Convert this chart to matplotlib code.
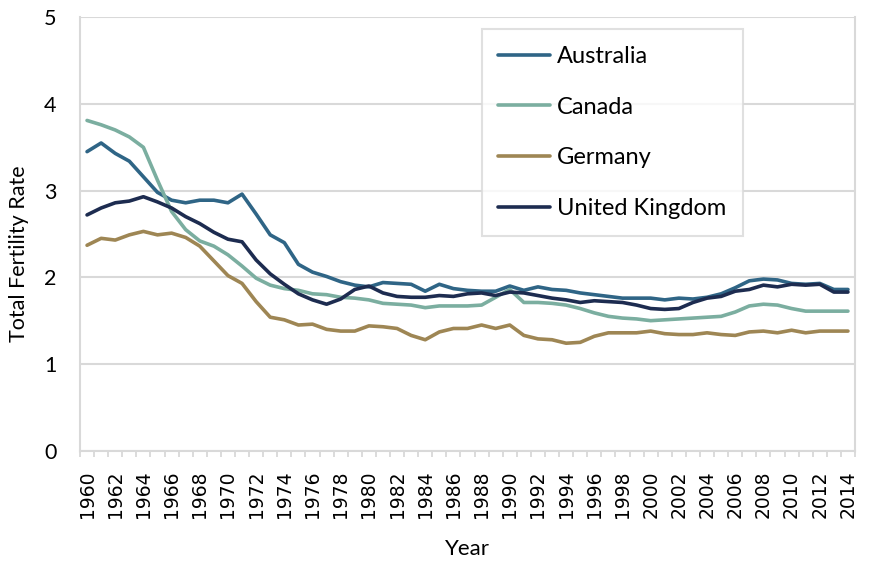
import numpy as np
import matplotlib
matplotlib.use("Agg")
import matplotlib.pyplot as plt

# data
years = list(range(1960, 2015))

australia = [3.45, 3.55, 3.43, 3.34, 3.16, 2.98, 2.89, 2.86, 2.89, 2.89,
             2.86, 2.96, 2.73, 2.49, 2.40, 2.15, 2.06, 2.01, 1.95, 1.91,
             1.89, 1.94, 1.93, 1.92, 1.84, 1.92, 1.87, 1.85, 1.84, 1.84,
             1.90, 1.85, 1.89, 1.86, 1.85, 1.82, 1.80, 1.78, 1.76, 1.76,
             1.76, 1.74, 1.76, 1.75, 1.77, 1.81, 1.88, 1.96, 1.98, 1.97,
             1.93, 1.92, 1.93, 1.86, 1.86]

canada = [3.81, 3.76, 3.70, 3.62, 3.50, 3.12, 2.76, 2.55, 2.42, 2.36,
          2.26, 2.13, 1.99, 1.91, 1.87, 1.85, 1.81, 1.80, 1.77, 1.76,
          1.74, 1.70, 1.69, 1.68, 1.65, 1.67, 1.67, 1.67, 1.68, 1.77,
          1.86, 1.71, 1.71, 1.70, 1.68, 1.64, 1.59, 1.55, 1.53, 1.52,
          1.50, 1.51, 1.52, 1.53, 1.54, 1.55, 1.60, 1.67, 1.69, 1.68,
          1.64, 1.61, 1.61, 1.61, 1.61]

germany = [2.37, 2.45, 2.43, 2.49, 2.53, 2.49, 2.51, 2.46, 2.36, 2.19,
           2.02, 1.93, 1.72, 1.54, 1.51, 1.45, 1.46, 1.40, 1.38, 1.38,
           1.44, 1.43, 1.41, 1.33, 1.28, 1.37, 1.41, 1.41, 1.45, 1.41,
           1.45, 1.33, 1.29, 1.28, 1.24, 1.25, 1.32, 1.36, 1.36, 1.36,
           1.38, 1.35, 1.34, 1.34, 1.36, 1.34, 1.33, 1.37, 1.38, 1.36,
           1.39, 1.36, 1.38, 1.38, 1.38]

uk = [2.72, 2.80, 2.86, 2.88, 2.93, 2.87, 2.80, 2.70, 2.62, 2.52,
      2.44, 2.41, 2.20, 2.04, 1.92, 1.81, 1.74, 1.69, 1.75, 1.86,
      1.90, 1.82, 1.78, 1.77, 1.77, 1.79, 1.78, 1.81, 1.82, 1.79,
      1.83, 1.82, 1.79, 1.76, 1.74, 1.71, 1.73, 1.72, 1.71, 1.68,
      1.64, 1.63, 1.64, 1.71, 1.76, 1.78, 1.84, 1.86, 1.91, 1.89,
      1.92, 1.91, 1.92, 1.83, 1.83]

series_names = ["Australia", "Canada", "Germany", "United Kingdom"]
colors = ["#2F6586", "#7BAEA0", "#9E8654", "#1D2C50"]

grid_col = "#D9D9D9"

fig = plt.figure(figsize=(8.78, 5.65), dpi=100)
ax = fig.add_axes([80/878, 1-450.7/565, 775/878, 433.4/565])

pos = np.arange(len(years))
for vals, name, c in zip([australia, canada, germany, uk], series_names, colors):
    ax.plot(pos, vals, color=c, lw=2.6, label=name,
            solid_joinstyle="round", solid_capstyle="round")

ax.set_xlim(-0.5, len(years) - 0.5)
ax.set_ylim(0, 5)
ax.set_yticks([0, 1, 2, 3, 4, 5])
ax.yaxis.grid(True, color=grid_col, lw=1.5)
ax.set_axisbelow(True)

ax.set_xticks(pos[::2])
ax.set_xticklabels([str(y) for y in years[::2]], rotation=90,
                   fontsize=13.5, family="DejaVu Sans")
ax.set_xticks(np.arange(-0.5, len(years), 1), minor=True)
ax.tick_params(axis="x", which="major", length=0, pad=14)
ax.tick_params(axis="x", which="minor", length=4.2, width=1.3, color=grid_col)
ax.tick_params(axis="y", length=0, pad=17)
for lab in ax.get_yticklabels():
    lab.set_family("Lato")
    lab.set_fontsize(15.5)

for s in ["left", "right", "bottom"]:
    ax.spines[s].set_color(grid_col)
    ax.spines[s].set_linewidth(1.5)
ax.spines["top"].set_visible(False)

ax.set_xlabel("Year", family="Lato", fontsize=16)
ax.xaxis.set_label_coords(0.5, -0.203)
ax.set_ylabel("Total Fertility Rate", family="Lato", fontsize=15.5)
ax.yaxis.set_label_coords(-0.066, 0.454)

leg = ax.legend(loc="upper left", bbox_to_anchor=(481.7/878, 1-29.3/565),
                bbox_transform=fig.transFigure, borderaxespad=0,
                prop={"family": "Lato", "size": 17}, frameon=True,
                fancybox=False, handlelength=2.2, handletextpad=0.3,
                labelspacing=1.26, borderpad=0.7)
leg.get_frame().set_edgecolor(grid_col)
leg.get_frame().set_linewidth(1.5)

fig.savefig("out.png", dpi=100)
